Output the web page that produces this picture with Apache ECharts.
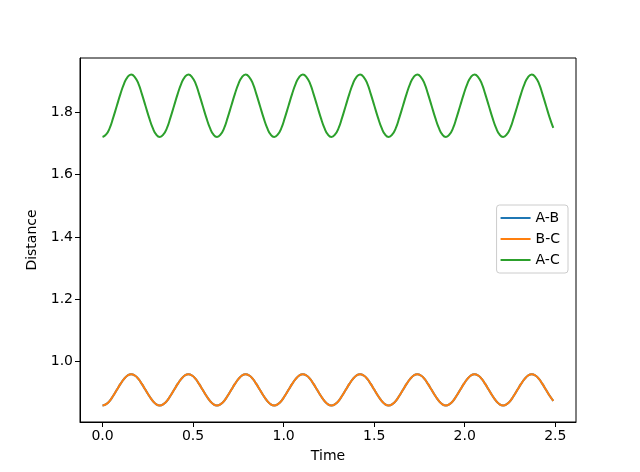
<!doctype html>
<html>
<head>
<meta charset="utf-8">
<script src="https://cdn.jsdelivr.net/npm/echarts@6/dist/echarts.min.js"></script>
<style>
    html, body {margin: 0; padding: 0; background: #fff;}
    #chart {width: 640px; height: 472px;}
</style>
</head>
<body>
<div id="chart"></div>
<script>
    // values
    var time = [0, 0.020, 0.040, 0.059, 0.079, 0.099, 0.119, 0.138, 0.158, 0.178, 0.198, 0.217, 0.237, 0.257, 0.277, 0.296,
        0.316, 0.336, 0.356, 0.375, 0.395, 0.415, 0.435, 0.454, 0.474, 0.494, 0.514, 0.533, 0.553, 0.573, 0.593, 0.612,
        0.632, 0.652, 0.672, 0.691, 0.711, 0.731, 0.751, 0.770, 0.790, 0.810, 0.830, 0.849, 0.869, 0.889, 0.909, 0.928,
        0.948, 0.968, 0.988, 1.007, 1.027, 1.047, 1.067, 1.086, 1.106, 1.126, 1.146, 1.165, 1.185, 1.205, 1.225, 1.244,
        1.264, 1.284, 1.304, 1.323, 1.343, 1.363, 1.383, 1.402, 1.422, 1.442, 1.462, 1.481, 1.501, 1.521, 1.541, 1.560,
        1.580, 1.600, 1.620, 1.639, 1.659, 1.679, 1.699, 1.718, 1.738, 1.758, 1.778, 1.797, 1.817, 1.837, 1.857, 1.876,
        1.896, 1.916, 1.936, 1.955, 1.975, 1.995, 2.015, 2.034, 2.054, 2.074, 2.094, 2.113, 2.133, 2.153, 2.173, 2.192,
        2.212, 2.232, 2.252, 2.271, 2.291, 2.311, 2.331, 2.350, 2.370, 2.390, 2.410, 2.429, 2.449, 2.469, 2.489];
    var ab = [0.860, 0.864, 0.875, 0.891, 0.910, 0.929, 0.945, 0.956, 0.960, 0.956, 0.945, 0.929, 0.910, 0.891, 0.875, 0.864,
        0.860, 0.864, 0.875, 0.891, 0.910, 0.929, 0.945, 0.956, 0.960, 0.956, 0.945, 0.929, 0.910, 0.891, 0.875, 0.864,
        0.860, 0.864, 0.875, 0.891, 0.910, 0.929, 0.945, 0.956, 0.960, 0.956, 0.945, 0.929, 0.910, 0.891, 0.875, 0.864,
        0.860, 0.864, 0.875, 0.891, 0.910, 0.929, 0.945, 0.956, 0.960, 0.956, 0.945, 0.929, 0.910, 0.891, 0.875, 0.864,
        0.860, 0.864, 0.875, 0.891, 0.910, 0.929, 0.945, 0.956, 0.960, 0.956, 0.945, 0.929, 0.910, 0.891, 0.875, 0.864,
        0.860, 0.864, 0.875, 0.891, 0.910, 0.929, 0.945, 0.956, 0.960, 0.956, 0.945, 0.929, 0.910, 0.891, 0.875, 0.864,
        0.860, 0.864, 0.875, 0.891, 0.910, 0.929, 0.945, 0.956, 0.960, 0.956, 0.945, 0.929, 0.910, 0.891, 0.875, 0.864,
        0.860, 0.864, 0.875, 0.891, 0.910, 0.929, 0.945, 0.956, 0.960, 0.956, 0.945, 0.929, 0.910, 0.891, 0.875];
    var bc = [0.860, 0.864, 0.875, 0.891, 0.910, 0.929, 0.945, 0.956, 0.960, 0.956, 0.945, 0.929, 0.910, 0.891, 0.875, 0.864,
        0.860, 0.864, 0.875, 0.891, 0.910, 0.929, 0.945, 0.956, 0.960, 0.956, 0.945, 0.929, 0.910, 0.891, 0.875, 0.864,
        0.860, 0.864, 0.875, 0.891, 0.910, 0.929, 0.945, 0.956, 0.960, 0.956, 0.945, 0.929, 0.910, 0.891, 0.875, 0.864,
        0.860, 0.864, 0.875, 0.891, 0.910, 0.929, 0.945, 0.956, 0.960, 0.956, 0.945, 0.929, 0.910, 0.891, 0.875, 0.864,
        0.860, 0.864, 0.875, 0.891, 0.910, 0.929, 0.945, 0.956, 0.960, 0.956, 0.945, 0.929, 0.910, 0.891, 0.875, 0.864,
        0.860, 0.864, 0.875, 0.891, 0.910, 0.929, 0.945, 0.956, 0.960, 0.956, 0.945, 0.929, 0.910, 0.891, 0.875, 0.864,
        0.860, 0.864, 0.875, 0.891, 0.910, 0.929, 0.945, 0.956, 0.960, 0.956, 0.945, 0.929, 0.910, 0.891, 0.875, 0.864,
        0.860, 0.864, 0.875, 0.891, 0.910, 0.929, 0.945, 0.956, 0.960, 0.956, 0.945, 0.929, 0.910, 0.891, 0.875];
    var ac = [1.720, 1.728, 1.749, 1.782, 1.820, 1.858, 1.891, 1.912, 1.920, 1.912, 1.891, 1.858, 1.820, 1.782, 1.749, 1.728,
        1.720, 1.728, 1.749, 1.782, 1.820, 1.858, 1.891, 1.912, 1.920, 1.912, 1.891, 1.858, 1.820, 1.782, 1.749, 1.728,
        1.720, 1.728, 1.749, 1.782, 1.820, 1.858, 1.891, 1.912, 1.920, 1.912, 1.891, 1.858, 1.820, 1.782, 1.749, 1.728,
        1.720, 1.728, 1.749, 1.782, 1.820, 1.858, 1.891, 1.912, 1.920, 1.912, 1.891, 1.858, 1.820, 1.782, 1.749, 1.728,
        1.720, 1.728, 1.749, 1.782, 1.820, 1.858, 1.891, 1.912, 1.920, 1.912, 1.891, 1.858, 1.820, 1.782, 1.749, 1.728,
        1.720, 1.728, 1.749, 1.782, 1.820, 1.858, 1.891, 1.912, 1.920, 1.912, 1.891, 1.858, 1.820, 1.782, 1.749, 1.728,
        1.720, 1.728, 1.749, 1.782, 1.820, 1.858, 1.891, 1.912, 1.920, 1.912, 1.891, 1.858, 1.820, 1.782, 1.749, 1.728,
        1.720, 1.728, 1.749, 1.782, 1.820, 1.858, 1.891, 1.912, 1.920, 1.912, 1.891, 1.858, 1.820, 1.782, 1.749];
    var xTicks = [0, 0.5, 1.0, 1.5, 2.0, 2.5];
    var yTicks = [1.0, 1.2, 1.4, 1.6, 1.8];

    function pairs(xs, ys) {
        var out = [];
        for (var i = 0; i < xs.length; i++) out.push([xs[i], ys[i]]);
        return out;
    }

    var font = 'DejaVu Sans';
    var myChart = echarts.init(document.getElementById('chart'));

    var option = {
        animation: false,
        textStyle: {fontFamily: font},
        grid: {
            left: 80, right: 64, top: 58, bottom: 50,
            show: true, borderColor: '#000', borderWidth: 1, backgroundColor: '#fff'
        },
        legend: {
            orient: 'vertical',
            right: 72, top: 205,
            itemWidth: 30, itemHeight: 2, itemGap: 7,
            icon: 'rect',
            padding: [6, 8, 6, 4],
            borderColor: '#ccc', borderWidth: 1, borderRadius: 3,
            textStyle: {fontFamily: font, fontSize: 14, color: '#000'},
            data: ['A-B', 'B-C', 'A-C']
        },
        xAxis: {
            type: 'value',
            min: -0.1245, max: 2.6145,
            name: 'Time', nameLocation: 'middle', nameGap: 27,
            nameTextStyle: {fontFamily: font, fontSize: 14, color: '#000'},
            axisLine: {show: true, onZero: false, lineStyle: {color: '#000', width: 1}},
            axisTick: {show: true, length: 5, lineStyle: {color: '#000'}, customValues: xTicks},
            axisLabel: {
                fontFamily: font, fontSize: 14, color: '#000', margin: 7, customValues: xTicks,
                formatter: function (v) { return v.toFixed(1); }
            },
            splitLine: {show: false}
        },
        yAxis: {
            type: 'value',
            min: 0.807, max: 1.973,
            name: 'Distance', nameLocation: 'middle', nameGap: 35,
            nameTextStyle: {fontFamily: font, fontSize: 14, color: '#000'},
            axisLine: {show: true, onZero: false, lineStyle: {color: '#000', width: 1}},
            axisTick: {show: true, length: 5, lineStyle: {color: '#000'}, customValues: yTicks},
            axisLabel: {
                fontFamily: font, fontSize: 14, color: '#000', margin: 7, customValues: yTicks,
                formatter: function (v) { return v.toFixed(1); }
            },
            splitLine: {show: false}
        },
        series: [
            {name: 'A-B', type: 'line', data: pairs(time, ab), smooth: true, showSymbol: false,
                lineStyle: {color: '#1f77b4', width: 2}, itemStyle: {color: '#1f77b4'}},
            {name: 'B-C', type: 'line', data: pairs(time, bc), smooth: true, showSymbol: false,
                lineStyle: {color: '#ff7f0e', width: 2}, itemStyle: {color: '#ff7f0e'}},
            {name: 'A-C', type: 'line', data: pairs(time, ac), smooth: true, showSymbol: false,
                lineStyle: {color: '#2ca02c', width: 2}, itemStyle: {color: '#2ca02c'}}
        ]
    };

    myChart.setOption(option);
</script>
</body>
</html>
